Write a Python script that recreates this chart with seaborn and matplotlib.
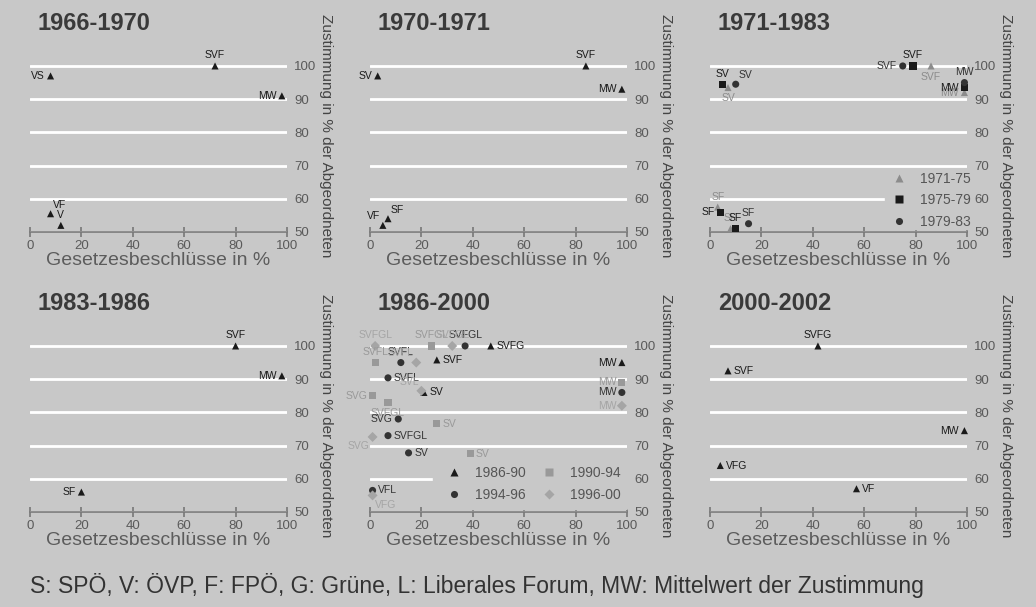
import numpy as np
import pandas as pd
import matplotlib.pyplot as plt
import seaborn as sns

# values (x: Gesetzesbeschlüsse in %, y: Zustimmung in %)
p1_label = ["SVF", "VS", "MW", "VF", "V"]
p1_x = [72, 8, 98, 8, 12]
p1_y = [100, 97, 91, 55.5, 52]
p1_period = ["all"] * 5
p1_pos = ["n", "w", "w", "ne", "n"]

p2_label = ["SVF", "SV", "MW", "SF", "VF"]
p2_x = [84, 3, 98, 7, 5]
p2_y = [100, 97, 93, 54, 52]
p2_period = ["all"] * 5
p2_pos = ["n", "w", "w", "ne", "nw"]

p3_label = ["SVF", "SV", "SF", "SF", "MW",
            "SVF", "SV", "SF", "SF", "MW",
            "SVF", "SV", "SF", "MW"]
p3_x = [86, 7, 3, 8, 99,
        79, 5, 4, 10, 99,
        75, 10, 15, 99]
p3_y = [100, 93.5, 57.5, 51, 92,
        100, 94.5, 56, 51, 93.5,
        100, 94.5, 52.5, 95]
p3_period = ["1971-75"] * 5 + ["1975-79"] * 5 + ["1979-83"] * 4
p3_pos = ["s", "s", "n", "n", "w",
          "n", "n", "w", "n", "w",
          "w", "ne", "n", "n"]

p4_label = ["SVF", "MW", "SF"]
p4_x = [80, 98, 20]
p4_y = [100, 91, 56]
p4_period = ["all"] * 3
p4_pos = ["n", "w", "w"]

p5_label = ["SVFG", "SVF", "SV", "MW",
            "SVFGL", "SVFL", "SVG", "SV", "SV", "SVFGL", "MW",
            "SVFGL", "SVFL", "SVFL", "SVG", "SVFGL", "SV", "VFL", "MW",
            "SVFGL", "SVFL", "SVFGL", "SVL", "SVG", "VFG", "MW"]
p5_x = [47, 26, 21, 98,
        24, 2, 1, 26, 39, 7, 98,
        37, 12, 7, 11, 7, 15, 1, 98,
        32, 18, 2, 20, 1, 1, 98]
p5_y = [100, 95.8, 86, 95,
        100, 95, 85, 76.6, 67.5, 83, 89,
        100, 95, 90.4, 78, 73, 67.8, 56.5, 86,
        100, 95, 100, 86.5, 72.6, 55, 82]
p5_period = (["1986-90"] * 4 + ["1990-94"] * 7 + ["1994-96"] * 8 + ["1996-00"] * 7)
p5_pos = ["e", "e", "e", "w",
          "n", "n", "w", "e", "e", "s", "w",
          "n", "n", "e", "w", "e", "e", "e", "w",
          "n", "nw", "n", "nw", "sw", "se", "w"]

p6_label = ["SVFG", "SVF", "MW", "VFG", "VF"]
p6_x = [42, 7, 99, 4, 57]
p6_y = [100, 92.5, 74.5, 64, 57]
p6_period = ["all"] * 5
p6_pos = ["n", "e", "w", "e", "e"]

BG = "#c8c8c8"
sns.set_theme(style="white")
plt.rcParams["font.family"] = ["Liberation Sans", "DejaVu Sans"]

OFFS = {"n": ((0, 4), "center", "bottom"), "s": ((0, -4), "center", "top"),
        "w": ((-4, 0), "right", "center"), "e": ((4, 0), "left", "center"),
        "ne": ((2, 3), "left", "bottom"), "nw": ((-2, 3), "right", "bottom"),
        "sw": ((-2, -3), "right", "top"), "se": ((2, -3), "left", "top")}


def panel(ax, title, label, x, y, period, pos, colors, markers, legend=None):
    df = pd.DataFrame({"label": label, "x": x, "y": y, "period": period})
    order = list(colors.keys())
    ax.set_facecolor(BG)
    ax.set_axisbelow(True)
    sns.scatterplot(data=df, x="x", y="y", hue="period", style="period",
                    hue_order=order, style_order=order, palette=colors,
                    markers=markers, s=26, edgecolor="none", ax=ax,
                    legend=legend is not None, clip_on=False, zorder=3)
    for (_, r), p in zip(df.iterrows(), pos):
        off, ha, va = OFFS[p]
        ax.annotate(r["label"], (r["x"], r["y"]), xytext=off, textcoords="offset points",
                    ha=ha, va=va, fontsize=7.5, color=colors[r["period"]],
                    annotation_clip=False)
    ax.set_xlim(0, 100)
    ax.set_ylim(50, 108)
    ax.set_xticks(range(0, 101, 20))
    ax.set_yticks(range(50, 101, 10))
    ax.yaxis.tick_right()
    ax.yaxis.set_label_position("right")
    ax.grid(axis="y", color="white", lw=2)
    for s in ["top", "left", "right"]:
        ax.spines[s].set_visible(False)
    ax.spines["bottom"].set_color("#7a7a7a")
    ax.spines["bottom"].set_linewidth(1.2)
    ax.tick_params(axis="x", direction="inout", length=7, color="#7a7a7a",
                   labelsize=9.5, labelcolor="#5a5a5a", pad=2, bottom=True)
    ax.tick_params(axis="y", length=0, labelsize=9.5, labelcolor="#5a5a5a", pad=5)
    ax.set_xlabel("Gesetzesbeschlüsse in %", fontsize=14, color="#5c5c5c", labelpad=0)
    ax.set_ylabel("Zustimmung in % der Abgeordneten", fontsize=11, color="#444444",
                  rotation=270, labelpad=12)
    ax.text(0.03, 1.085, title, transform=ax.transAxes, fontsize=17, color="#3a3a3a",
            fontweight="bold", ha="left", va="center")
    if legend is not None:
        h, l = ax.get_legend_handles_labels()
        idx = legend.get("order", list(range(len(l))))
        leg = ax.legend([h[i] for i in idx], [l[i] for i in idx], loc="lower right",
                        bbox_to_anchor=legend["anchor"], ncol=legend.get("ncol", 1),
                        frameon=True, facecolor=BG, edgecolor=BG, framealpha=1,
                        fontsize=10, labelspacing=legend.get("spacing", 1.0),
                        handletextpad=0.5, columnspacing=legend.get("colsp", 1.5),
                        borderpad=legend.get("bpad", 0.4), labelcolor="#555555")
        leg.set_zorder(2)


fig = plt.figure(figsize=(10.36, 6.07), dpi=100, facecolor=BG)
W, H = 1036, 607
cols = [30, 370, 710]
rows = [(39.4, 232), (319.4, 512)]
axes = []
for r0, r1 in rows:
    for c in cols:
        axes.append(fig.add_axes([c / W, 1 - r1 / H, 257 / W, (r1 - r0) / H]))

single = {"all": "#1a1a1a"}
tri = {"all": "^"}
panel(axes[0], "1966-1970", p1_label, p1_x, p1_y, p1_period, p1_pos, single, tri)
panel(axes[1], "1970-1971", p2_label, p2_x, p2_y, p2_period, p2_pos, single, tri)
panel(axes[2], "1971-1983", p3_label, p3_x, p3_y, p3_period, p3_pos,
      {"1971-75": "#8c8c8c", "1975-79": "#1a1a1a", "1979-83": "#333333"},
      {"1971-75": "^", "1975-79": "s", "1979-83": "o"},
      legend={"anchor": (1.04, -0.02), "spacing": 0.55, "bpad": 0.0})
panel(axes[3], "1983-1986", p4_label, p4_x, p4_y, p4_period, p4_pos, single, tri)
panel(axes[4], "1986-2000", p5_label, p5_x, p5_y, p5_period, p5_pos,
      {"1986-90": "#1a1a1a", "1990-94": "#999999", "1994-96": "#333333", "1996-00": "#a5a5a5"},
      {"1986-90": "^", "1990-94": "s", "1994-96": "o", "1996-00": "D"},
      legend={"anchor": (1.03, -0.02), "ncol": 2, "order": [0, 2, 1, 3],
              "spacing": 0.55, "colsp": 0.7, "bpad": 0.5})
panel(axes[5], "2000-2002", p6_label, p6_x, p6_y, p6_period, p6_pos, single, tri)

fig.text(30 / W, 1 - 585 / H,
         "S: SPÖ, V: ÖVP, F: FPÖ, G: Grüne, L: Liberales Forum, MW: Mittelwert der Zustimmung",
         fontsize=16.5, color="#333333", ha="left", va="center")

fig.savefig("out.png", dpi=100, facecolor=BG)
